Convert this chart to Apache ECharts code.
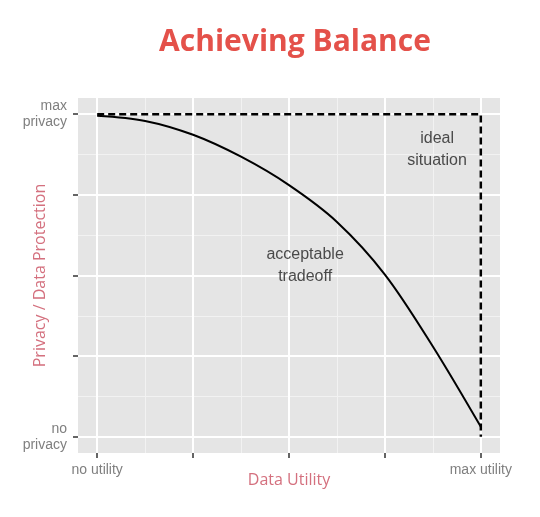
<!DOCTYPE html>
<html><head><meta charset="utf-8">
<script src="https://cdn.jsdelivr.net/npm/echarts@6/dist/echarts.min.js"></script>
<style>html,body{margin:0;padding:0;background:#fff}#c{width:540px;height:517px}</style>
</head><body><div id="c"></div>
<script>
const curveX = [0, 0.125, 0.25, 0.375, 0.5, 0.625, 0.75, 0.875, 1];
const curveY = [0.995, 0.979, 0.936, 0.868, 0.780, 0.666, 0.503, 0.280, 0.031];
const idealX = [0, 1, 1];
const idealY = [1, 1, 0];
const majorTicks = [0, 0.25, 0.5, 0.75, 1];
const minorTicks = [0.125, 0.375, 0.625, 0.875];
const xTickValues = [0, 1];
const xTickLabels = ['no utility', 'max utility'];
const yTickValues = [0, 1];
const yTickLabels = ['no\nprivacy', 'max\nprivacy'];
const annoText = ['ideal\nsituation', 'acceptable\ntradeoff'];
const annoX = [0.886, 0.542];
const annoY = [0.889, 0.530];

const chart = echarts.init(document.getElementById('c'), null, {renderer: 'canvas'});
const tickLabelStyle = {color: '#7f7f7f', fontFamily: 'Liberation Sans, Arial', fontSize: 14, lineHeight: 16};
const nameStyle = {color: '#d4707e', fontFamily: 'Open Sans', fontSize: 16};

function majorAxis(isX) {
  const vals = isX ? xTickValues : yTickValues;
  const labs = isX ? xTickLabels : yTickLabels;
  return {
    type: 'value', min: -0.05, max: 1.05, z: 2,
    axisLine: {show: false, onZero: false},
    axisTick: {show: true, customValues: majorTicks, length: 5, lineStyle: {color: '#333', width: 1.5}},
    axisLabel: Object.assign({customValues: vals, margin: isX ? 9 : 11,
      formatter: v => { const i = vals.indexOf(v); return i >= 0 ? labs[i] : ''; }}, tickLabelStyle),
    splitLine: {show: true, lineStyle: {color: '#ffffff', width: 2}},
    name: isX ? 'Data Utility' : 'Privacy / Data Protection',
    nameLocation: 'middle', nameGap: isX ? 19 : 30, nameMoveOverlap: false, nameTextStyle: nameStyle
  };
}
function minorAxis() {
  return {
    type: 'value', min: -0.05, max: 1.05, z: 1,
    axisLine: {show: false, onZero: false},
    axisTick: {show: false, customValues: minorTicks},
    axisLabel: {show: false},
    splitLine: {show: true, lineStyle: {color: '#f2f2f2', width: 1}}
  };
}

chart.setOption({
  animation: false,
  title: {text: 'Achieving Balance', left: 290, top: 22, textAlign: 'center',
    textStyle: {fontFamily: 'Open Sans', fontWeight: 'bold', fontSize: 30, color: '#e4514a'}},
  grid: {left: 78, right: 40, top: 98, bottom: 64, show: true, backgroundColor: '#e5e5e5', borderWidth: 0,
    outerBoundsMode: 'none', containLabel: false},
  xAxis: [majorAxis(true), minorAxis()],
  yAxis: [majorAxis(false), minorAxis()],
  series: [
    {type: 'line', xAxisIndex: 0, yAxisIndex: 0, data: curveX.map((x, i) => [x, curveY[i]]),
      smooth: 0.33, symbol: 'none', lineStyle: {color: '#000', width: 2}, z: 3},
    {type: 'line', xAxisIndex: 0, yAxisIndex: 0, data: idealX.map((x, i) => [x, idealY[i]]),
      symbol: 'none', lineStyle: {color: '#000', width: 2.5, type: [7, 4]}, z: 4},
    {type: 'scatter', xAxisIndex: 0, yAxisIndex: 0, symbolSize: 1, itemStyle: {color: 'transparent'},
      data: annoX.map((x, i) => ({value: [x, annoY[i]], label: {formatter: annoText[i]}})),
      label: {show: true, position: 'inside', color: '#222', fontFamily: 'Liberation Sans, Arial', fontSize: 16, lineHeight: 22},
      z: 5}
  ]
});
</script></body></html>
